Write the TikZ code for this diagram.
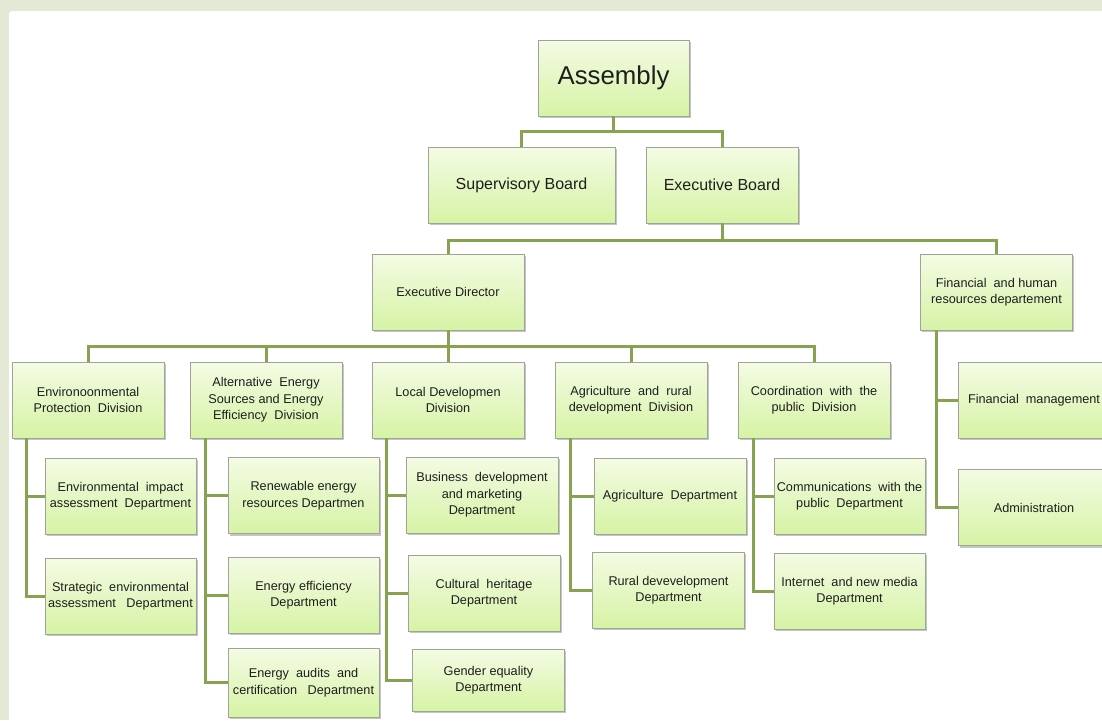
\documentclass[tikz,border=0pt]{standalone}
\usepackage{fontspec}
\setmainfont{Liberation Sans}
\usepackage{tikz}
\usetikzlibrary{shadows, calc}
\usepackage{xcolor}

\definecolor{pagebg}{RGB}{228,233,214}
\definecolor{boxtop}{RGB}{244,251,228}
\definecolor{boxbot}{RGB}{214,243,165}
\definecolor{boxline}{RGB}{158,164,150}
\definecolor{linkgreen}{RGB}{136,163,80}
\definecolor{textdark}{RGB}{30,30,30}

\newcommand{\orgfont}{\fontsize{12.7}{16.5}\selectfont}

\tikzset{
	orgbox/.style={draw=boxline, line width=0.8pt, top color=boxtop, bottom color=boxbot,
		minimum width=152pt, minimum height=76pt, inner sep=2pt, align=center, text=textdark,
		font=\orgfont, drop shadow={shadow xshift=1.8pt, shadow yshift=-2pt, opacity=0.45}},
	link/.style={draw=linkgreen, line width=3pt}
}

\begin{document}
\begin{tikzpicture}[x=1pt, y=-1pt]
		\useasboundingbox (0,0) rectangle (1102,720);
		\fill[pagebg] (0,0) rectangle (1102,720);
		\fill[white, rounded corners=3pt] (9,11) rectangle (1115,735);
		
		\draw (613.5,78) node[orgbox, minimum width=151pt, font=\fontsize{25.8}{30}\selectfont] (asm) {Assembly}
		(521.5,185) node[orgbox, minimum width=187pt, font=\fontsize{16}{19}\selectfont] (sup) {Supervisory Board}
		(722,185) node[orgbox, font=\fontsize{16}{19}\selectfont] (exe) {Executive Board}
		(448,292) node[orgbox] (dir) {Executive Director}
		(996.5,292) node[orgbox] (fin) {Financial\ \ and human\\resources departement}
		(88,400) node[orgbox] (env) {Environoonmental\\Protection\ \ Division}
		(266,400) node[orgbox] (alt) {Alternative\ \ Energy\\Sources and Energy\\Efficiency\ \ Division}
		(448,400) node[orgbox] (loc) {Local Developmen\\Division}
		(631,400) node[orgbox] (agr) {Agriculture\ \ and\ \ rural\\development\ \ Division}
		(814,400) node[orgbox] (coo) {Coordination\ \ with\ \ the\\public\ \ Division};
		
		\draw (120.5,496) node[orgbox, minimum width=151pt] (envimp) {Environmental\ \ impact\\assessment\ \ Department}
		(120.5,596) node[orgbox, minimum width=151pt] (envstr) {Strategic\ \ environmental\\assessment\ \ \ Department}
		(303.5,495.5) node[orgbox, minimum width=151pt] (ren) {Renewable energy\\resources Departmen}
		(303.5,595) node[orgbox, minimum width=151pt] (eff) {Energy efficiency\\Department}
		(303.5,682.5) node[orgbox, minimum width=151pt, minimum height=69pt] (aud) {Energy\ \ audits\ \ and\\certification\ \ \ Department}
		(482,495) node[orgbox] (bus) {Business\ \ development\\and marketing\\Department}
		(484,593) node[orgbox] (cul) {Cultural\ \ heritage\\Department}
		(488.5,680) node[orgbox, minimum height=62pt] (gen) {Gender equality\\Department}
		(670,496) node[orgbox] (agd) {Agriculture\ \ Department}
		(668.5,590) node[orgbox] (rur) {Rural devevelopment\\Department}
		(849.5,496) node[orgbox, minimum width=151pt] (com) {Communications\ \ with the\\public\ \ Department}
		(849.5,591) node[orgbox, minimum width=151pt] (int) {Internet\ \ and new media\\Department}
		(1034,400) node[orgbox] (fim) {Financial\ \ management}
		(1034,507.5) node[orgbox] (adm) {Administration};
		
		% top levels
		\draw[link] (asm.south) -- ++(0,15) -| (sup.north);
		\draw[link] (asm.south) -- ++(0,15) -| (exe.north);
		\draw[link] (exe.south) -- ++(0,17) -| (dir.north);
		\draw[link] (exe.south) -- ++(0,17) -| (fin.north);
		\foreach \d in {env, alt, loc, agr, coo}
			\draw[link] (dir.south) -- ++(0,16) -| (\d.north);
		
		% departments
		\draw[link] ([xshift=15pt]env.south west) |- (envstr.west);
		\draw[link] ([xshift=15pt]env.south west) |- (envimp.west);
		\draw[link] ([xshift=16pt]alt.south west) |- (aud.west);
		\draw[link] ([xshift=16pt]alt.south west) |- (ren.west);
		\draw[link] ([xshift=16pt]alt.south west) |- (eff.west);
		\draw[link] ([xshift=15pt]loc.south west) |- (gen.west);
		\draw[link] ([xshift=15pt]loc.south west) |- (bus.west);
		\draw[link] ([xshift=15pt]loc.south west) |- (cul.west);
		\draw[link] ([xshift=16pt]agr.south west) |- (rur.west);
		\draw[link] ([xshift=16pt]agr.south west) |- (agd.west);
		\draw[link] ([xshift=16pt]coo.south west) |- (int.west);
		\draw[link] ([xshift=16pt]coo.south west) |- (com.west);
		\draw[link] ([xshift=16pt]fin.south west) |- (adm.west);
		\draw[link] ([xshift=16pt]fin.south west) |- (fim.west);
	\end{tikzpicture}
\end{document}
